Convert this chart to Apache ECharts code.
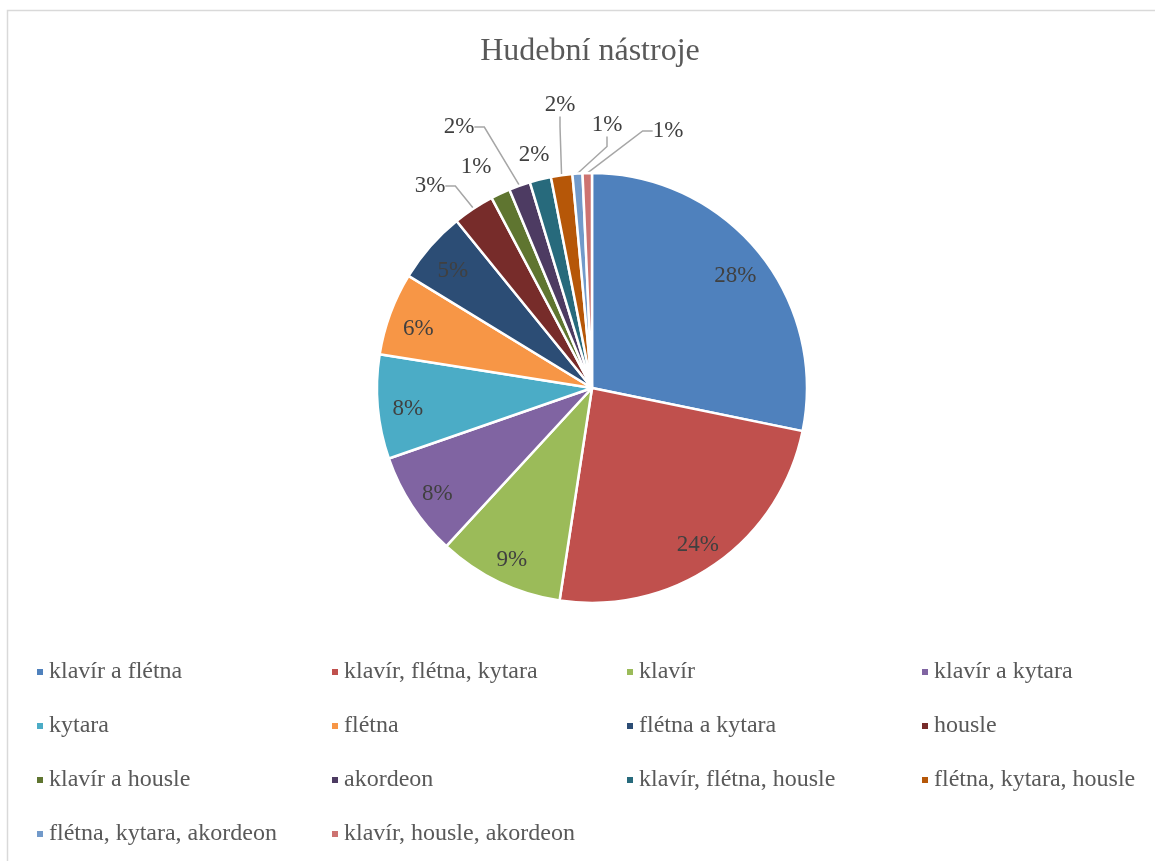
<!DOCTYPE html>
<html>
<head>
<meta charset="utf-8">
<script src="https://cdn.jsdelivr.net/npm/echarts@6/dist/echarts.min.js"></script>
<style>
  html, body { margin: 0; padding: 0; background: #ffffff; }
  #chart { width: 1155px; height: 861px; }
</style>
</head>
<body>
<div id="chart"></div>
<script>
const chartTitle = 'Hudební nástroje';
const categories = [
  'klavír a flétna', 'klavír, flétna, kytara', 'klavír', 'klavír a kytara',
  'kytara', 'flétna', 'flétna a kytara', 'housle',
  'klavír a housle', 'akordeon', 'klavír, flétna, housle', 'flétna, kytara, housle',
  'flétna, kytara, akordeon', 'klavír, housle, akordeon'
];
const values = [28.1, 24.1, 9.4, 7.8, 7.8, 6.2, 5.4, 3.1, 1.45, 1.6, 1.6, 1.6, 0.75, 0.7];
const colors = [
  '#4F81BD', '#C0504D', '#9BBB59', '#8064A2', '#4BACC6', '#F79646', '#2C4D75',
  '#772C2A', '#5F7530', '#4D3B62', '#276A7C', '#B65708', '#729ACA', '#CD7371'
];

// label placement for the small slices (label centres), and whether a leader line is drawn
const outsideLabelPlace = {
  7:  { x: 430, y: 186, line: true },
  8:  { x: 476, y: 167, line: false },
  9:  { x: 459, y: 127, line: true },
  10: { x: 534, y: 155, line: false },
  11: { x: 560, y: 105, line: true },
  12: { x: 607, y: 125, line: true },
  13: { x: 668, y: 131, line: true }
};

const FONT = '"Liberation Serif", "Times New Roman", serif';
const SMALL = 4; // percent below which the label goes outside

const total = values.reduce((a, b) => a + b, 0);
const pctLabel = p => Math.round(p.percent) + '%';

const mainData = categories.map((name, i) => {
  const small = values[i] / total * 100 < SMALL;
  const place = outsideLabelPlace[i];
  return {
    name: name,
    value: values[i],
    itemStyle: { color: colors[i] },
    label: { show: small },
    labelLine: { show: small && !!(place && place.line) }
  };
});

const innerData = categories.map((name, i) => {
  const small = values[i] / total * 100 < SMALL;
  return {
    name: name,
    value: values[i],
    label: { show: !small }
  };
});

const legendText = { fontFamily: FONT, fontSize: 24, lineHeight: 24, color: '#595959' };

const legends = [0, 1, 2, 3].map(col => ({
  orient: 'vertical',
  left: 35 + col * 295,
  top: 660,
  padding: 0,
  itemWidth: 8,
  itemHeight: 8,
  itemGap: 30,
  icon: 'rect',
  selectedMode: false,
  data: categories.filter((c, i) => i % 4 === col),
  textStyle: legendText
}));

const chart = echarts.init(document.getElementById('chart'), null, { renderer: 'canvas' });
chart.setOption({
  backgroundColor: '#ffffff',
  animation: false,
  color: colors,
  textStyle: { fontFamily: FONT },
  title: {
    text: chartTitle,
    left: 585,
    textAlign: 'center',
    top: 31,
    textStyle: { fontFamily: FONT, fontSize: 32, fontWeight: 'normal', color: '#595959' }
  },
  graphic: [{
    type: 'rect',
    silent: true,
    shape: { x: 7.5, y: 10.5, width: 1170, height: 870 },
    style: { fill: 'none', stroke: '#d9d9d9', lineWidth: 1.5 }
  }],
  legend: legends,
  series: [
    {
      type: 'pie',
      center: [592, 388],
      radius: 215,
      startAngle: 90,
      clockwise: true,
      avoidLabelOverlap: false,
      emphasis: { disabled: true },
      itemStyle: { borderColor: '#ffffff', borderWidth: 2.5 },
      label: {
        position: 'outside',
        formatter: pctLabel,
        fontFamily: FONT,
        fontSize: 23,
        color: '#404040'
      },
      labelLine: {
        length: 10,
        length2: 10,
        smooth: false,
        lineStyle: { color: '#a6a6a6', width: 1.5 }
      },
      labelLayout: function (params) {
        const place = outsideLabelPlace[params.dataIndex];
        if (!place) return {};
        return { x: place.x, y: place.y, align: 'center', verticalAlign: 'middle' };
      },
      data: mainData
    },
    {
      type: 'pie',
      center: [592, 388],
      radius: [150, 214],
      startAngle: 90,
      clockwise: true,
      silent: true,
      legendHoverLink: false,
      emphasis: { disabled: true },
      itemStyle: { color: 'rgba(0,0,0,0)', borderWidth: 0 },
      label: {
        position: 'inside',
        formatter: pctLabel,
        offset: [0, 5],
        fontFamily: FONT,
        fontSize: 23,
        color: '#404040'
      },
      labelLine: { show: false },
      data: innerData
    }
  ]
});
</script>
</body>
</html>
